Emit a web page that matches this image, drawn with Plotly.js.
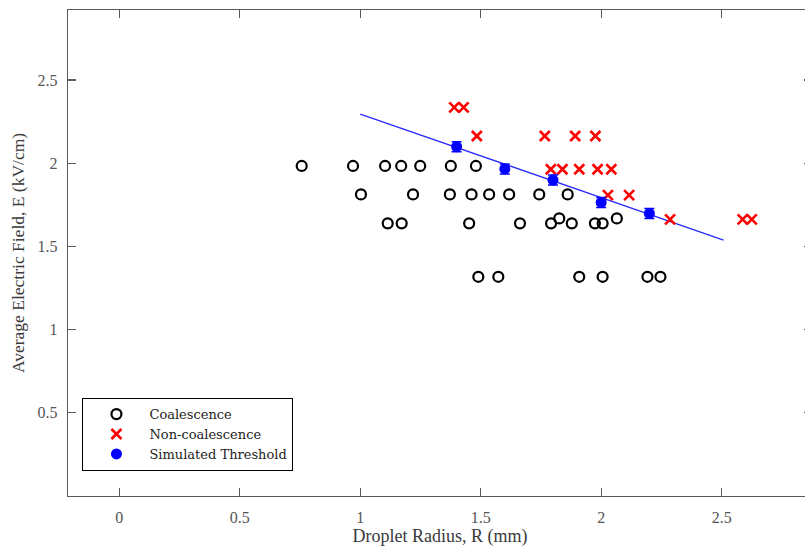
<!DOCTYPE html>
<html>
<head>
<meta charset="utf-8">
<script src="https://cdn.plot.ly/plotly-3.0.1.min.js"></script>
<style>
html, body { margin: 0; padding: 0; overflow: hidden; background: #fff; }
#chart { width: 814px; height: 552px; }
</style>
</head>
<body>
<div id="chart"></div>
<script>
// Coalescence (open circles)
const coalX = [0.757, 0.970, 1.103, 1.170, 1.249, 1.376, 1.480,
               1.003, 1.219, 1.372, 1.462, 1.535, 1.618, 1.743, 1.861,
               1.114, 1.172, 1.452, 1.663, 1.792, 1.826, 1.878, 1.974, 2.006, 2.065,
               1.490, 1.573, 1.909, 2.006, 2.192, 2.246];
const coalY = [1.983, 1.983, 1.983, 1.983, 1.983, 1.983, 1.983,
               1.812, 1.812, 1.812, 1.812, 1.812, 1.812, 1.812, 1.812,
               1.638, 1.638, 1.638, 1.638, 1.638, 1.668, 1.638, 1.638, 1.638, 1.668,
               1.317, 1.317, 1.317, 1.317, 1.317, 1.317];

// Non-coalescence (red crosses)
const nonX = [1.390, 1.429,
              1.484, 1.766, 1.892, 1.976,
              1.791, 1.839, 1.909, 1.985, 2.042,
              2.028, 2.116,
              2.286, 2.587, 2.625];
const nonY = [2.335, 2.335,
              2.163, 2.163, 2.163, 2.163,
              1.963, 1.963, 1.963, 1.963, 1.963,
              1.808, 1.808,
              1.662, 1.662, 1.662];

// Simulated threshold (blue, with error bars)
const simX = [1.4, 1.6, 1.8, 2.0, 2.2];
const simY = [2.099, 1.965, 1.898, 1.764, 1.698];
const simErr = [0.03, 0.03, 0.03, 0.03, 0.03];

// Fitted threshold line
const fitX = [1.0, 2.508];
const fitY = [2.295, 1.538];

// Ticks
const xTicks = [0, 0.5, 1, 1.5, 2, 2.5];
const xTickText = ['0', '0.5', '1', '1.5', '2', '2.5'];
const yTicks = [0.5, 1, 1.5, 2, 2.5];
const yTickText = ['0.5', '1', '1.5', '2', '2.5'];

const serif = 'Liberation Serif, Times New Roman, serif';

const traces = [
  {
    x: fitX, y: fitY, type: 'scatter', mode: 'lines',
    line: { color: '#2a2aff', width: 1.3 },
    showlegend: false, hoverinfo: 'skip'
  },
  {
    x: coalX, y: coalY, type: 'scatter', mode: 'markers', name: 'Coalescence',
    marker: { symbol: 'circle-open', size: 10, color: '#000000', line: { width: 2.2, color: '#000000' } }
  },
  {
    x: nonX, y: nonY, type: 'scatter', mode: 'markers', name: 'Non-coalescence',
    marker: { symbol: 'x-thin-open', size: 10, color: '#ff0000', line: { width: 2.6, color: '#ff0000' } }
  },
  {
    x: simX, y: simY, type: 'scatter', mode: 'markers', name: 'Simulated Threshold',
    marker: { symbol: 'circle', size: 11, color: '#0000ff' },
    error_y: { type: 'data', array: simErr, visible: true, color: '#0000ff', thickness: 1.5, width: 5 }
  }
];

const axisCommon = {
  showgrid: false, zeroline: false,
  showline: true, linecolor: '#5a5a5a', linewidth: 1.4,
  mirror: 'ticks', ticks: 'inside', ticklen: 8, tickwidth: 1.2, tickcolor: '#5a5a5a',
  tickfont: { family: serif, size: 16, color: '#555555' },
  ticklabelstandoff: 6
};

const layout = {
  width: 814, height: 552,
  margin: { l: 68, r: 2, t: 10, b: 56 },
  paper_bgcolor: '#ffffff', plot_bgcolor: '#ffffff',
  font: { family: serif, color: '#333333' },
  xaxis: Object.assign({}, axisCommon, {
    range: [-0.213, 2.875],
    tickvals: xTicks, ticktext: xTickText,
    title: { text: 'Droplet Radius, R (mm)', font: { family: serif, size: 18, color: '#3a3a3a' }, standoff: 3 }
  }),
  yaxis: Object.assign({}, axisCommon, {
    range: [0, 2.92],
    tickvals: yTicks, ticktext: yTickText,
    title: { text: 'Average Electric Field, E (kV/cm)', font: { family: serif, size: 17.5, color: '#3a3a3a' }, standoff: 8 }
  }),
  showlegend: true,
  legend: {
    x: 0.019, y: 0.202, xanchor: 'left', yanchor: 'top',
    bgcolor: '#ffffff', bordercolor: '#000000', borderwidth: 1.3,
    font: { family: 'DejaVu Serif, serif', size: 13, color: '#222222' },
    itemwidth: 56, tracegroupgap: 0
  }
};

Plotly.newPlot('chart', traces, layout, { displayModeBar: false, staticPlot: true });
</script>
</body>
</html>
